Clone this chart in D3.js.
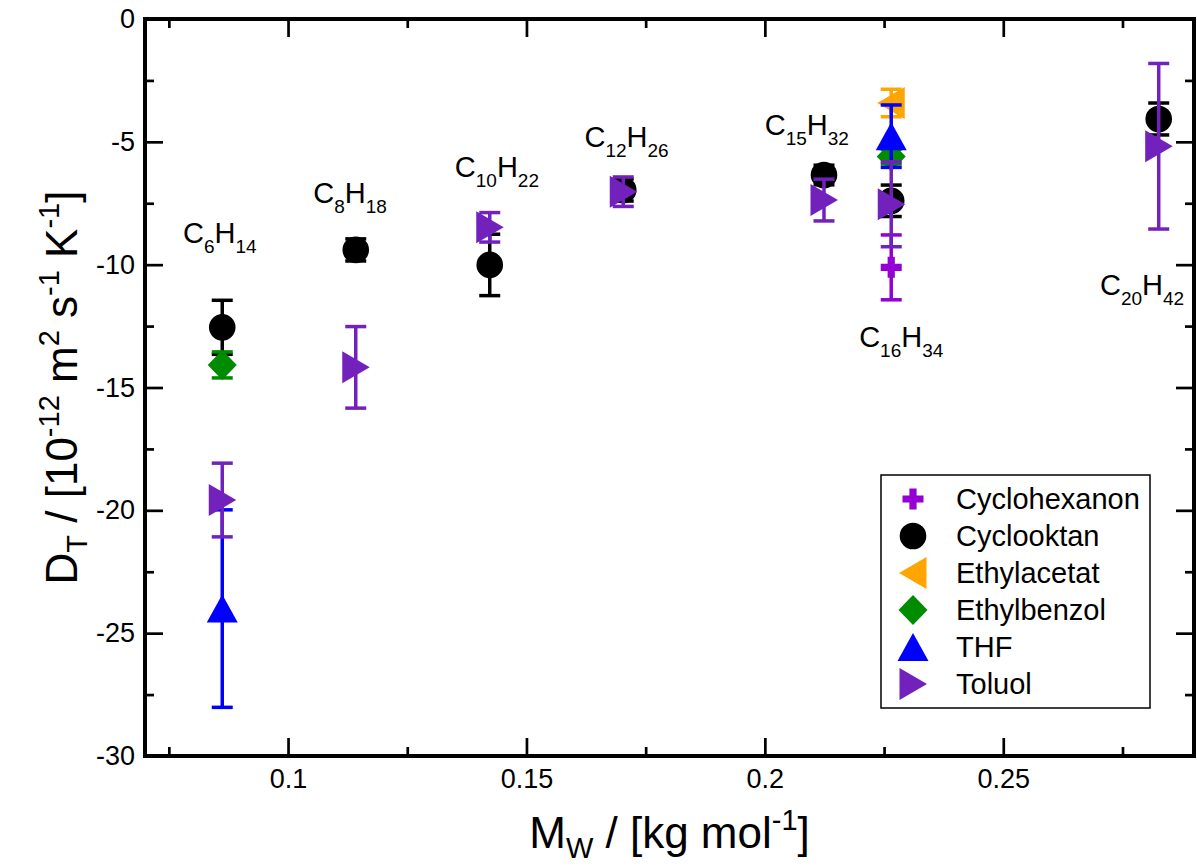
<!DOCTYPE html>
<html><head><meta charset="utf-8">
<script src="https://cdn.jsdelivr.net/npm/d3@7"></script>
<style>
body{margin:0;background:#fff}
svg{display:block}
text{font-family:"Liberation Sans",Arial,Helvetica,sans-serif;white-space:pre}
</style>
</head><body>
<svg id="chart" width="1197" height="866"></svg>
<script>
// ---------------- data ----------------
const carbons   = [6, 8, 10, 12, 15, 16, 20];
const hydrogens = [14, 18, 22, 26, 32, 34, 42];
const mw        = [0.0862, 0.1142, 0.1423, 0.1703, 0.2124, 0.2265, 0.2826];   // kg/mol
const labelX    = [0.0857, 0.1130, 0.1438, 0.1710, 0.2088, 0.2286, 0.2791];   // label anchor (data units)
const labelY    = [-9.12, -7.49, -6.43, -5.21, -4.72, -13.35, -11.23];

const seriesNames = ["Cyclohexanon", "Cyclooktan", "Ethylacetat", "Ethylbenzol", "THF", "Toluol"];
const cyclohexanonVal = [null, null, null, null, null, -10.11, null];
const cyclohexanonErr = [null, null, null, null, null, 1.32, null];
const cyclooktanVal   = [-12.55, -9.40, -10.01, -6.96, -6.35, -7.40, -4.07];
const cyclooktanErr   = [1.10, 0.45, 1.25, 0.45, 0.40, 0.64, 0.65];
const ethylacetatVal  = [null, null, null, null, null, -3.42, null];
const ethylacetatErr  = [null, null, null, null, null, 0.56, null];
const ethylbenzolVal  = [-14.08, null, null, null, null, -5.60, null];
const ethylbenzolErr  = [0.53, null, null, null, null, 0.30, null];
const thfVal          = [-24.00, null, null, null, null, -4.77, null];
const thfErr          = [4.02, null, null, null, null, 1.27, null];
const toluolVal       = [-19.58, -14.18, -8.48, -7.03, -7.37, -7.54, -5.18];
const toluolErr       = [1.50, 1.66, 0.60, 0.60, 0.85, 1.73, 3.37];

const xTicks = [0.1, 0.15, 0.2, 0.25];
const xTickLabels = ["0.1", "0.15", "0.2", "0.25"];
const xMinor = [0.075, 0.125, 0.175, 0.225, 0.275];
const yTicks = [0, -5, -10, -15, -20, -25, -30];
const yTickLabels = ["0", "-5", "-10", "-15", "-20", "-25", "-30"];
const yMinor = [-2.5, -7.5, -12.5, -17.5, -22.5, -27.5];

// ---------------- styles ----------------
const colors = ["rgb(148,0,211)", "#000000", "rgb(255,165,0)", "rgb(0,139,0)", "rgb(0,0,255)", "rgb(114,33,188)"];
const shapes = ["plus", "circle", "left", "diamond", "up", "right"];
const values = [cyclohexanonVal, cyclooktanVal, ethylacetatVal, ethylbenzolVal, thfVal, toluolVal];
const errors = [cyclohexanonErr, cyclooktanErr, ethylacetatErr, ethylbenzolErr, thfErr, toluolErr];

const L = 145, R = 1194, T = 19, B = 756;
const svg = d3.select("#chart");
const x = d3.scaleLinear().domain([0.07, 0.29]).range([L, R]);
const y = d3.scaleLinear().domain([0, -30]).range([T, B]);

function symbolPath(shape) {
  switch (shape) {
    case "circle": { const p = d3.path(); p.arc(0, 0, 13.3, 0, 2 * Math.PI); p.closePath(); return p.toString(); }
    case "diamond": return "M0,-15L14.5,0L0,15L-14.5,0Z";
    case "up": return "M0,-14L15.5,14L-15.5,14Z";
    case "right": return "M-13.5,-16L14,0L-13.5,16Z";
    case "left": return "M13.5,-16L-14,0L13.5,16Z";
    case "plus": return "M-3.6,-10.5H3.6V-3.6H10.5V3.6H3.6V10.5H-3.6V3.6H-10.5V-3.6H-3.6Z";
  }
}

// ---------------- axes ----------------
const axisG = svg.append("g");
function styleAxis(g) {
  g.select(".domain").remove();
  g.selectAll(".tick line").attr("stroke", "#000").attr("stroke-width", 2.7);
  g.selectAll(".tick text").attr("fill", "#000").style("font-size", "27px")
   .style("font-family", '"Liberation Sans",Arial,sans-serif');
}
axisG.append("g").attr("transform", `translate(0,${B})`)
  .call(d3.axisBottom(x).tickValues(xTicks).tickSize(-18).tickPadding(13).tickFormat((d, i) => xTickLabels[i]))
  .call(styleAxis);
axisG.append("g").attr("transform", `translate(0,${B})`)
  .call(d3.axisBottom(x).tickValues(xMinor).tickSize(-9).tickFormat(""))
  .call(styleAxis);
axisG.append("g").attr("transform", `translate(0,${T})`)
  .call(d3.axisTop(x).tickValues(xTicks).tickSize(-18).tickFormat(""))
  .call(styleAxis);
axisG.append("g").attr("transform", `translate(0,${T})`)
  .call(d3.axisTop(x).tickValues(xMinor).tickSize(-9).tickFormat(""))
  .call(styleAxis);
axisG.append("g").attr("transform", `translate(${L},0)`)
  .call(d3.axisLeft(y).tickValues(yTicks).tickSize(-18).tickPadding(10).tickFormat((d, i) => yTickLabels[i]))
  .call(styleAxis);
axisG.append("g").attr("transform", `translate(${L},0)`)
  .call(d3.axisLeft(y).tickValues(yMinor).tickSize(-9).tickFormat(""))
  .call(styleAxis);
axisG.append("g").attr("transform", `translate(${R},0)`)
  .call(d3.axisRight(y).tickValues(yTicks).tickSize(-18).tickFormat(""))
  .call(styleAxis);
axisG.append("g").attr("transform", `translate(${R},0)`)
  .call(d3.axisRight(y).tickValues(yMinor).tickSize(-9).tickFormat(""))
  .call(styleAxis);

svg.append("rect").attr("x", L).attr("y", T).attr("width", R - L).attr("height", B - T)
  .attr("fill", "none").attr("stroke", "#000").attr("stroke-width", 4);

// ---------------- compound labels ----------------
const lab = svg.append("g");
carbons.forEach((c, i) => {
  const t = lab.append("text").attr("x", x(labelX[i])).attr("y", y(labelY[i]))
    .attr("text-anchor", "middle").style("font-size", "29px").attr("fill", "#000");
  t.append("tspan").text("C");
  t.append("tspan").attr("dy", 10).style("font-size", "19px").text(String(c));
  t.append("tspan").attr("dy", -10).text("H");
  t.append("tspan").attr("dy", 10).style("font-size", "19px").text(String(hydrogens[i]));
});

// ---------------- data ----------------
const capW = 10.5;
seriesNames.forEach((name, s) => {
  const g = svg.append("g").attr("class", "series-" + name);
  const pts = mw.map((m, i) => ({ m, v: values[s][i], e: errors[s][i] })).filter(d => d.v !== null);
  const eb = g.selectAll("g.eb").data(pts).join("g").attr("class", "eb")
    .attr("stroke", colors[s]).attr("stroke-width", 3.5);
  eb.append("line").attr("x1", d => x(d.m)).attr("x2", d => x(d.m))
    .attr("y1", d => y(d.v + d.e)).attr("y2", d => y(d.v - d.e));
  eb.append("line").attr("x1", d => x(d.m) - capW).attr("x2", d => x(d.m) + capW)
    .attr("y1", d => y(d.v + d.e)).attr("y2", d => y(d.v + d.e));
  eb.append("line").attr("x1", d => x(d.m) - capW).attr("x2", d => x(d.m) + capW)
    .attr("y1", d => y(d.v - d.e)).attr("y2", d => y(d.v - d.e));
  g.selectAll("path.sym").data(pts).join("path").attr("class", "sym")
    .attr("d", symbolPath(shapes[s]))
    .attr("transform", d => `translate(${x(d.m)},${y(d.v)})`)
    .attr("fill", colors[s]);
});

// ---------------- legend ----------------
const leg = svg.append("g");
leg.append("rect").attr("x", 881).attr("y", 475).attr("width", 269).attr("height", 233)
  .attr("fill", "#fff").attr("stroke", "#000").attr("stroke-width", 1.5);
seriesNames.forEach((name, s) => {
  const cy = 499 + 37 * s;
  leg.append("path").attr("d", symbolPath(shapes[s])).attr("transform", `translate(913,${cy})`)
    .attr("fill", colors[s]);
  leg.append("text").attr("x", 956).attr("y", cy + 10).style("font-size", "29px").attr("fill", "#000").text(name);
});

// ---------------- axis titles ----------------
const xt = svg.append("text").attr("x", (L + R) / 2).attr("y", 848).attr("text-anchor", "middle")
  .style("font-size", "44px").attr("fill", "#000");
xt.append("tspan").text("M");
xt.append("tspan").attr("dy", 10).style("font-size", "29px").text("W");
xt.append("tspan").attr("dy", -10).text(" / [kg mol");
xt.append("tspan").attr("dy", -18).style("font-size", "29px").text("-1");
xt.append("tspan").attr("dy", 18).text("]");

const yt = svg.append("text").attr("transform", `translate(77,${(T + B) / 2}) rotate(-90)`)
  .attr("text-anchor", "middle").style("font-size", "44px").attr("fill", "#000");
yt.append("tspan").text("D");
yt.append("tspan").attr("dy", 10).style("font-size", "29px").text("T");
yt.append("tspan").attr("dy", -10).text(" / [10");
yt.append("tspan").attr("dy", -18).style("font-size", "29px").text("-12");
yt.append("tspan").attr("dy", 18).text(" m");
yt.append("tspan").attr("dy", -18).style("font-size", "29px").text("2");
yt.append("tspan").attr("dy", 18).text(" s");
yt.append("tspan").attr("dy", -18).style("font-size", "29px").text("-1");
yt.append("tspan").attr("dy", 18).text(" K");
yt.append("tspan").attr("dy", -18).style("font-size", "29px").text("-1");
yt.append("tspan").attr("dy", 18).text("]");
</script>
</body></html>
